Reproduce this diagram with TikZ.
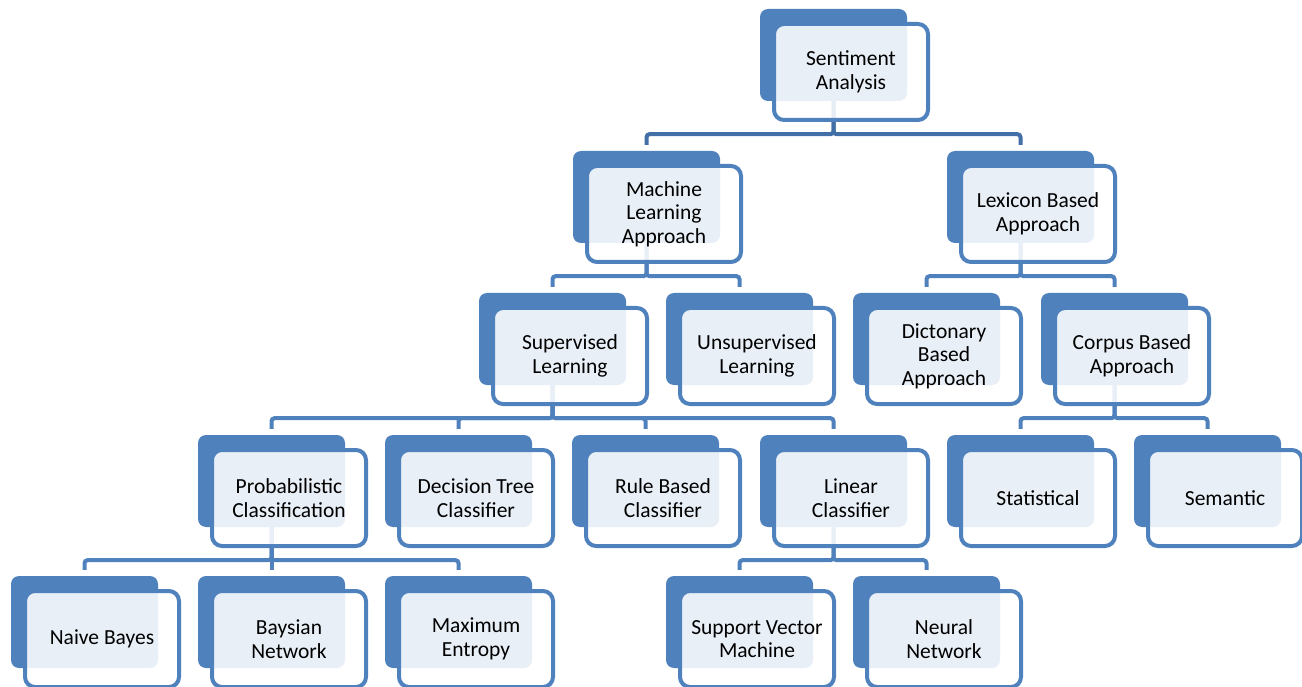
\documentclass[tikz,border=0pt]{standalone}
\usepackage{fontspec}
\setmainfont{Carlito}
\usetikzlibrary{backgrounds}
\definecolor{accent}{RGB}{79,129,189}
\definecolor{accentdark}{RGB}{65,111,166}
\tikzset{
  backbox/.style={rectangle, rounded corners=8pt, fill=accent, draw=none,
    minimum width=147pt, minimum height=92pt, inner sep=0pt},
  frontbox/.style={rectangle, rounded corners=10pt, draw=accent, line width=4pt,
    fill=white, fill opacity=0.88, text opacity=1, text=black,
    minimum width=154pt, minimum height=96pt, inner sep=0pt, align=center,
    font=\fontsize{21.5pt}{23.5pt}\selectfont},
  conn/.style={draw=accent, line width=4pt, rounded corners=3pt},
  conntop/.style={conn, draw=accentdark},
}
% back tile + framed front tile; #2,#3 = top-left corner of the back tile
\newcommand\smartbox[4]{%
  \node[backbox] (#1-b) at (#2+73.5,#3+46) {};
  \node[frontbox] (#1) at (#2+91,#3+63) {#4};}
% elbow connector from a parent tile down to a child tile
\newcommand\linkto[3][conn]{%
  \draw[#1] (#2-b.south) -- ++(0,33) -| ([yshift=6pt]#3-b.north);}
\begin{document}
\begin{tikzpicture}[x=1pt,y=-1pt]
\useasboundingbox (0,0) rectangle (1302,687);
% level 0
\smartbox{sa}{760}{9}{Sentiment\\Analysis}
% level 1
\smartbox{ml}{573}{151}{Machine\\Learning\\Approach}
\smartbox{lex}{947}{151}{Lexicon Based\\Approach}
% level 2
\smartbox{sup}{479}{293}{Supervised\\Learning}
\smartbox{uns}{666}{293}{Unsupervised\\Learning}
\smartbox{dic}{853}{293}{Dictonary\\Based\\Approach}
\smartbox{cor}{1041}{293}{Corpus Based\\Approach}
% level 3
\smartbox{prob}{198}{435}{Probabilistic\\Classification}
\smartbox{dt}{385}{435}{Decision Tree\\Classifier}
\smartbox{rule}{572}{435}{Rule Based\\Classifier}
\smartbox{lin}{760}{435}{Linear\\Classifier}
\smartbox{stat}{947}{435}{Statistical}
\smartbox{sem}{1134}{435}{Semantic}
% level 4
\smartbox{nb}{11}{576}{Naive Bayes}
\smartbox{bn}{198}{576}{Baysian\\Network}
\smartbox{me}{385}{576}{Maximum\\Entropy}
\smartbox{svm}{666}{576}{Support Vector\\Machine}
\smartbox{nn}{853}{576}{Neural\\Network}
\begin{pgfonlayer}{background}
  \linkto[conntop]{sa}{ml}
  \linkto[conntop]{sa}{lex}
  \linkto{ml}{sup}
  \linkto{ml}{uns}
  \linkto{lex}{dic}
  \linkto{lex}{cor}
  \linkto{sup}{prob}
  \linkto{sup}{dt}
  \linkto{sup}{rule}
  \linkto{sup}{lin}
  \linkto{cor}{stat}
  \linkto{cor}{sem}
  \linkto{prob}{nb}
  \linkto{prob}{bn}
  \linkto{prob}{me}
  \linkto{lin}{svm}
  \linkto{lin}{nn}
\end{pgfonlayer}
\end{tikzpicture}
\end{document}
